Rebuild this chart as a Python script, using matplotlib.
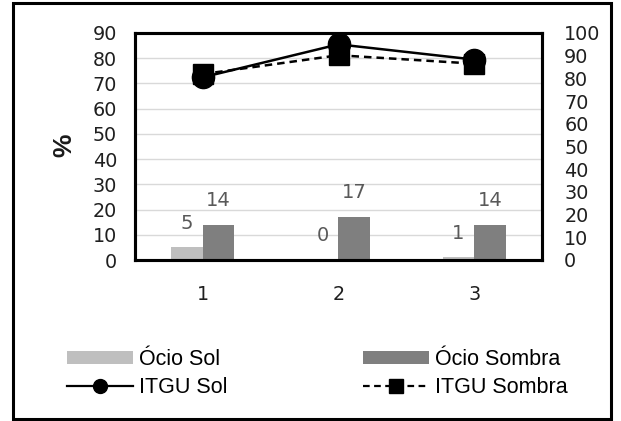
import matplotlib
matplotlib.use("Agg")
import matplotlib.pyplot as plt
from matplotlib.patches import Rectangle
from matplotlib.lines import Line2D
from matplotlib.patches import Patch

# Data
categories = ["1", "2", "3"]
ocio_sol = [5, 0, 1]
ocio_sombra = [14, 17, 14]
itgu_sol = [80.5, 95, 88.3]
itgu_sombra = [81.9, 90.2, 86.5]
left_ticks = list(range(0, 91, 10))
right_ticks = list(range(0, 101, 10))

W, H = 621, 421
fig = plt.figure(figsize=(W / 100, H / 100), dpi=100)

def fx(px):
    return px / W

def fy(py):
    return 1 - py / H

# plot area
ax = fig.add_axes([fx(135), fy(260), fx(542) - fx(135), fy(33) - fy(260)])
ax2 = ax.twinx()

x = list(range(1, len(categories) + 1))
bw = 0.233
c_sol = "#bfbfbf"
c_sombra = "#7f7f7f"

ax.bar([v - bw / 2 for v in x], ocio_sol, width=bw, color=c_sol, zorder=2)
ax.bar([v + bw / 2 for v in x], ocio_sombra, width=bw, color=c_sombra, zorder=2)

label_font = dict(family="DejaVu Sans", size=14, color="#595959")
for xi, v in zip(x, ocio_sol):
    ax.annotate(f"{v}", (xi - bw / 2, v), xytext=(0, 17.5), textcoords="offset points",
                ha="center", va="center", **label_font)
for xi, v in zip(x, ocio_sombra):
    ax.annotate(f"{v}", (xi + bw / 2, v), xytext=(0, 17.5), textcoords="offset points",
                ha="center", va="center", **label_font)

ax.set_xlim(0.5, 3.5)
ax.set_ylim(0, 90)
ax.set_yticks(left_ticks)
ax.set_xticks(x)
ax.set_xticklabels(categories)
ax.grid(axis="y", color="#d9d9d9", linewidth=1.0, zorder=0)
ax.set_axisbelow(True)

ax2.plot(x, itgu_sol, color="black", linewidth=1.8, marker="o", markersize=16, zorder=3)
ax2.plot(x, itgu_sombra, color="black", linewidth=1.8, linestyle=(0, (3, 2)),
         marker="s", markersize=15, zorder=4)
ax2.set_ylim(0, 100)
ax2.set_yticks(right_ticks)

for a in (ax, ax2):
    a.tick_params(length=0, labelsize=13.8, labelcolor="#1f1f1f")
    for lab in a.get_xticklabels() + a.get_yticklabels():
        lab.set_family("DejaVu Sans")
    for s in a.spines.values():
        s.set_linewidth(2.2)
        s.set_color("black")
ax.tick_params(axis="y", pad=13)
ax.tick_params(axis="x", pad=18)
ax2.tick_params(axis="y", pad=16)

fig.text(fx(64), fy(145), "%", rotation=90, ha="center", va="center",
         fontsize=19, fontweight="bold", family="Liberation Sans", color="#1a1a1a")

# legend in two columns
leg_font = {"family": "Liberation Sans", "size": 15.5}
col1 = [Patch(facecolor=c_sol), Line2D([], [], color="black", lw=1.6, marker="o", markersize=10)]
col2 = [Patch(facecolor=c_sombra),
        Line2D([], [], color="black", lw=1.6, linestyle=(0, (3, 2)), marker="s", markersize=10)]
common = dict(frameon=False, loc="center left", borderpad=0, borderaxespad=0,
              handlelength=3.05, handleheight=0.5, handletextpad=0.28,
              labelspacing=0.3, prop=leg_font)
fig.legend(col1, ["Ócio Sol", "ITGU Sol"], bbox_to_anchor=(fx(67), fy(373.5)), **common)
fig.legend(col2, ["Ócio Sombra", "ITGU Sombra"], bbox_to_anchor=(fx(363), fy(373.5)), **common)

# outer frame
fig.patches.append(Rectangle((fx(13), fy(419)), fx(611) - fx(13), fy(3) - fy(419),
                             transform=fig.transFigure, fill=False, edgecolor="black",
                             linewidth=2.2))

fig.savefig("out.png", dpi=100)
